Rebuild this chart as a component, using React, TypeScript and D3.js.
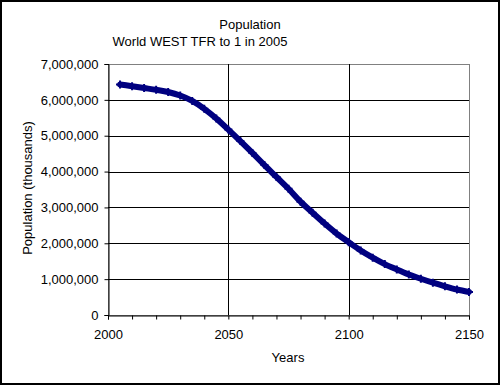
import React, { useEffect, useRef } from 'react';
import * as d3 from 'd3';

// population (thousands), every 5 years
const years = [
    2005, 2010, 2015, 2020, 2025, 2030, 2035, 2040, 2045, 2050,
    2055, 2060, 2065, 2070, 2075, 2080, 2085, 2090, 2095, 2100,
    2105, 2110, 2115, 2120, 2125, 2130, 2135, 2140, 2145, 2150,
];
const population = [
    6430000, 6380000, 6330000, 6280000, 6220000, 6120000, 5970000, 5750000, 5480000, 5170000,
    4850000, 4520000, 4180000, 3850000, 3520000, 3160000, 2850000, 2550000, 2270000, 2030000,
    1800000, 1600000, 1420000, 1270000, 1130000, 1010000, 900000, 800000, 710000, 640000,
];
const xTicks = [2000, 2050, 2100, 2150];
const yTicks = [0, 1000000, 2000000, 3000000, 4000000, 5000000, 6000000, 7000000];

const title = 'Population';
const subtitle = 'World WEST TFR to 1 in 2005';
const xTitle = 'Years';
const yTitle = 'Population (thousands)';

const App = () => {
    const svgRef = useRef<SVGSVGElement>(null);

    useEffect(() => {
        const width = 500;
        const height = 385;
        const margin = { top: 64, right: 31, bottom: 70, left: 108 };
        const innerW = width - margin.left - margin.right;
        const innerH = height - margin.top - margin.bottom;
        const font = '"Liberation Sans", Arial, sans-serif';

        const root = d3.select(svgRef.current);
        root.selectAll('*').remove();
        root.attr('width', width).attr('height', height);

        root.append('rect')
            .attr('x', 1).attr('y', 1)
            .attr('width', width - 2).attr('height', height - 2)
            .attr('fill', '#fff')
            .attr('stroke', '#000')
            .attr('stroke-width', 2);

        const svg = root.append('g')
            .attr('transform', `translate(${margin.left},${margin.top})`);

        const data = years.map((y, i) => ({ year: y, value: population[i] }));

        const x = d3.scaleLinear().domain([2000, 2150]).range([0, innerW]);
        const y = d3.scaleLinear().domain([0, 7000000]).range([innerH, 0]);

        // plot area frame
        svg.append('rect')
            .attr('x', 0.5).attr('y', 0.5)
            .attr('width', innerW).attr('height', innerH)
            .attr('fill', 'none')
            .attr('stroke', '#808080');

        // gridlines
        svg.append('g')
            .selectAll('line')
            .data(yTicks.slice(1, -1))
            .enter()
            .append('line')
            .attr('x1', 0).attr('x2', innerW)
            .attr('y1', d => Math.round(y(d)) + 0.5)
            .attr('y2', d => Math.round(y(d)) + 0.5)
            .attr('stroke', '#000');

        svg.append('g')
            .selectAll('line')
            .data(xTicks.slice(1, -1))
            .enter()
            .append('line')
            .attr('x1', d => Math.round(x(d)) + 0.5)
            .attr('x2', d => Math.round(x(d)) + 0.5)
            .attr('y1', 0).attr('y2', innerH)
            .attr('stroke', '#000');

        // axes
        const yAxis = svg.append('g')
            .attr('transform', 'translate(0.5,0)')
            .call(d3.axisLeft(y)
                .tickValues(yTicks)
                .tickSize(4)
                .tickPadding(6)
                .tickFormat(d => d3.format(',')(d as number))
            );

        const xAxis = svg.append('g')
            .attr('transform', `translate(0,${innerH + 0.5})`)
            .call(d3.axisBottom(x)
                .ticks(15)
                .tickSize(4)
                .tickPadding(10)
                .tickFormat(d => xTicks.includes(d as number) ? String(d) : '')
            );

        [yAxis, xAxis].forEach(a => {
            a.select('.domain').attr('stroke', '#000');
            a.selectAll('.tick line').attr('stroke', '#000');
            a.selectAll('text')
                .attr('fill', '#000')
                .style('font-family', font)
                .style('font-size', '13px');
        });

        // series
        const line = d3.line<{ year: number; value: number }>()
            .x(d => x(d.year))
            .y(d => y(d.value))
            .curve(d3.curveMonotoneX);

        svg.append('path')
            .datum(data)
            .attr('fill', 'none')
            .attr('stroke', '#000080')
            .attr('stroke-width', 6)
            .attr('stroke-linejoin', 'round')
            .attr('stroke-linecap', 'round')
            .attr('d', line);

        svg.append('g')
            .selectAll('path')
            .data(data)
            .enter()
            .append('path')
            .attr('transform', d => `translate(${x(d.year)},${y(d.value)})`)
            .attr('d', 'M-4,0H4M0,-4V4')
            .attr('stroke', '#000080')
            .attr('stroke-width', 2);

        // titles
        root.append('text')
            .attr('x', 250).attr('y', 29)
            .attr('text-anchor', 'middle')
            .style('font-family', font).style('font-size', '13px')
            .text(title);

        root.append('text')
            .attr('x', 200).attr('y', 46)
            .attr('text-anchor', 'middle')
            .style('font-family', font).style('font-size', '13px')
            .text(subtitle);

        root.append('text')
            .attr('x', 288).attr('y', 362)
            .attr('text-anchor', 'middle')
            .style('font-family', font).style('font-size', '13px')
            .text(xTitle);

        root.append('text')
            .attr('transform', 'rotate(-90)')
            .attr('x', -188).attr('y', 32)
            .attr('text-anchor', 'middle')
            .style('font-family', font).style('font-size', '13px')
            .text(yTitle);
    }, []);

    return (
        <div style={{ position: 'absolute', left: 0, top: 0 }}>
            <svg ref={svgRef} style={{ display: 'block' }}></svg>
        </div>
    );
};

export default App;
